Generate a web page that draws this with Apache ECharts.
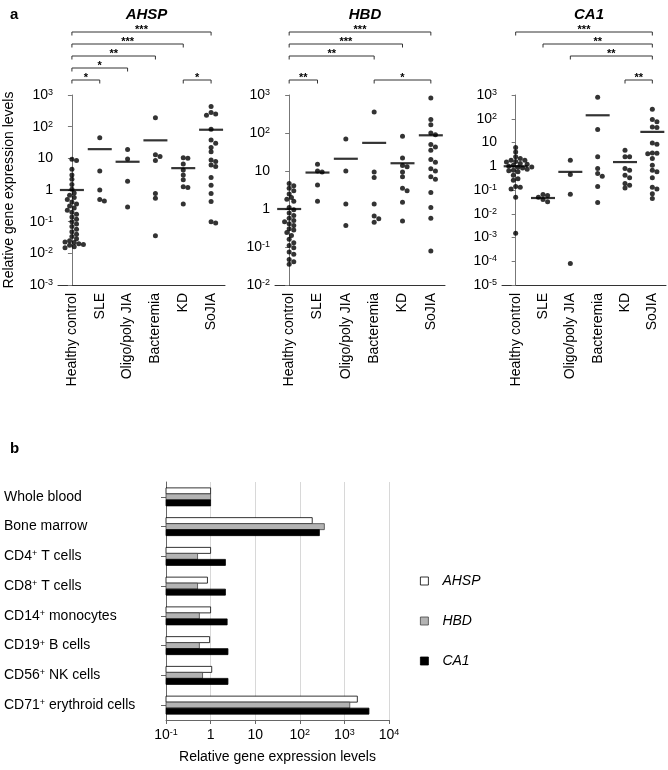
<!DOCTYPE html>
<html>
<head>
    <meta charset="utf-8">
    <title>AHSP HBD CA1</title>
    <script src="https://cdn.jsdelivr.net/npm/echarts@6/dist/echarts.min.js"></script>
</head>
<body style="margin:0">
<div id="main" style="width:668px;height:770px;"></div>
<script>
// ---- data ----
var groups = ['Healthy control', 'SLE', 'Oligo/poly JIA', 'Bacteremia', 'KD', 'SoJIA'];

var ahspHC = [9.3, 8.6, 4.5, 3.0, 2.2, 1.5, 1.05, 0.8, 0.68, 0.58, 0.5, 0.42, 0.36, 0.31, 0.27, 0.23, 0.2, 0.17,
    0.14, 0.12, 0.1, 0.085, 0.07, 0.058, 0.048, 0.04, 0.034, 0.029, 0.025, 0.022, 0.02, 0.018, 0.016, 0.015, 0.019, 0.023];
var ahspSLE = [45, 4, 1.0, 0.5, 0.45];
var ahspJIA = [19, 9.5, 1.9, 0.29];
var ahspBact = [190, 13, 11.5, 8.5, 0.78, 0.55, 0.036];
var ahspKD = [10.5, 10, 6.6, 4.3, 3, 2.1, 1.27, 1.2, 0.36];
var ahspSoJIA = [430, 280, 250, 230, 83, 38, 30, 22, 16, 8.9, 7.9, 6.2, 5.5, 2.5, 1.4, 0.78, 0.43, 0.1, 0.09];
var ahspMean = [1.0, 19.5, 7.8, 37, 4.9, 80];

var hbdHC = [4.7, 4.1, 3.5, 3.0, 2.5, 2.0, 1.8, 1.6, 1.1, 0.95, 0.79, 0.67, 0.57, 0.5, 0.46, 0.41, 0.37, 0.3,
    0.28, 0.24, 0.2, 0.16, 0.13, 0.11, 0.095, 0.074, 0.064, 0.047, 0.041, 0.035];
var hbdSLE = [15, 10, 9.4, 4.3, 1.6];
var hbdJIA = [70, 10, 1.35, 0.37];
var hbdBact = [355, 9.4, 6.7, 1.35, 0.65, 0.55, 0.45];
var hbdKD = [82, 22, 14, 13, 9.4, 7.1, 3.5, 3, 1.5, 0.48];
var hbdSoJIA = [830, 225, 165, 100, 90, 50, 43, 35, 20, 17, 11.5, 10, 7.1, 6.1, 2.7, 1.1, 0.57, 0.079];
var hbdMean = [1.0, 9.1, 21, 55, 16, 87];

var ca1HC = [6.2, 4, 2.5, 2.1, 1.8, 1.8, 1.6, 1.5, 1.3, 1.2, 1.1, 1.1, 1.0, 0.93, 0.9, 0.85, 0.75, 0.68, 0.65,
    0.58, 0.42, 0.3, 0.26, 0.14, 0.13, 0.11, 0.05, 0.0015];
var ca1SLE = [0.065, 0.058, 0.05, 0.04, 0.032];
var ca1JIA = [1.8, 0.45, 0.066, 0.00008];
var ca1Bact = [800, 35, 2.5, 0.8, 0.49, 0.38, 0.14, 0.03];
var ca1KD = [4.7, 2.5, 2.5, 0.8, 0.68, 0.42, 0.33, 0.19, 0.16, 0.12];
var ca1SoJIA = [250, 93, 74, 45, 43, 9.6, 8.5, 3.6, 3.5, 3.4, 2.1, 1.1, 0.68, 0.58, 0.33, 0.13, 0.11, 0.07, 0.044];
var ca1Mean = [1.0, 0.046, 0.58, 140, 1.5, 28];

// significance brackets: [from group, to group, level, stars]
var ahspSig = [[0, 5, 5, '***'], [0, 4, 4, '***'], [0, 3, 3, '**'], [0, 2, 2, '*'], [0, 1, 1, '*'], [4, 5, 1, '*']];
var hbdSig = [[0, 5, 5, '***'], [0, 4, 4, '***'], [0, 3, 3, '**'], [0, 1, 1, '**'], [3, 5, 1, '*']];
var ca1Sig = [[0, 5, 5, '***'], [1, 5, 4, '**'], [2, 5, 3, '**'], [4, 5, 1, '**']];

// panel b
var cells = ['Whole blood', 'Bone marrow', 'CD4+ T cells', 'CD8+ T cells', 'CD14+ monocytes',
    'CD19+ B cells', 'CD56+ NK cells', 'CD71+ erythroid cells'];
var ahspBar = [1, 190, 1.0, 0.85, 1.0, 0.95, 1.06, 1950];
var hbdBar = [1, 355, 0.51, 0.51, 0.56, 0.56, 0.66, 1320];
var ca1Bar = [1, 275, 2.15, 2.15, 2.35, 2.45, 2.45, 3550];

// ---- layout ----
var FONT = 'Liberation Sans, Arial, Helvetica, sans-serif';
var panels = [
    {name: 'AHSP', sets: [ahspHC, ahspSLE, ahspJIA, ahspBact, ahspKD, ahspSoJIA], mean: ahspMean, sig: ahspSig, left: 58, width: 167, min: 1e-3},
    {name: 'HBD', sets: [hbdHC, hbdSLE, hbdJIA, hbdBact, hbdKD, hbdSoJIA], mean: hbdMean, sig: hbdSig, left: 275, width: 170, min: 1e-2},
    {name: 'CA1', sets: [ca1HC, ca1SLE, ca1JIA, ca1Bact, ca1KD, ca1SoJIA], mean: ca1Mean, sig: ca1Sig, left: 502, width: 164, min: 1e-5}
];
var plotTop = 95, plotH = 190, dot = 5;

// simple beeswarm so overlapping dots are pushed sideways
function swarm(vals, pxPerDec, catPx) {
    var order = vals.map(function (v, i) { return i; }).sort(function (a, b) { return vals[b] - vals[a]; });
    var placed = [], offs = [];
    order.forEach(function (i) {
        var ly = Math.log10(vals[i]) * pxPerDec;
        for (var k = 0; k < 20; k++) {
            var off = (k % 2 ? 1 : -1) * Math.ceil(k / 2) * 2.3;
            var hit = placed.some(function (p) {
                var dx = off - p[0], dy = ly - p[1];
                return dx * dx + dy * dy < dot * dot * 0.72;
            });
            if (!hit) break;
        }
        placed.push([off, ly]);
        offs[i] = off / catPx;
    });
    return offs;
}

function powLabel(v) {
    var e = Math.round(Math.log10(v));
    if (e === 0) return '1';
    if (e === 1) return '10';
    return '10{sup|' + (e < 0 ? '-' + (-e) : e) + '}';
}
var supRich = {sup: {fontSize: 9, verticalAlign: 'top', fontFamily: FONT, color: '#000'}};

var grid = [], xAxis = [], yAxis = [], series = [], title = [];
title.push({text: 'a', left: 5, top: 2, textStyle: {fontSize: 15, fontWeight: 'bold', fontFamily: FONT, color: '#000'}});
title.push({text: 'b', left: 5, top: 436, textStyle: {fontSize: 15, fontWeight: 'bold', fontFamily: FONT, color: '#000'}});

panels.forEach(function (p, k) {
    var decades = Math.round(Math.log10(1000 / p.min));
    var pxPerDec = plotH / decades, catPx = p.width / groups.length;
    title.push({text: p.name, left: p.left + p.width / 2, textAlign: 'center', top: 2,
        textStyle: {fontSize: 15, fontWeight: 'bold', fontStyle: 'italic', fontFamily: FONT, color: '#000'}});
    grid.push({left: p.left, top: plotTop, width: p.width, height: plotH});
    grid.push({left: p.left, top: 20, width: p.width, height: 72});
    var g = k * 2;
    // category axis (labels) + hidden value axis for dots
    xAxis.push({type: 'category', gridIndex: g, data: groups,
        axisLine: {lineStyle: {color: '#333', width: 1}}, axisTick: {show: false},
        axisLabel: {rotate: 90, margin: 8, fontSize: 14, color: '#000', fontFamily: FONT, interval: 0}});
    xAxis.push({type: 'value', gridIndex: g, min: -0.5, max: 5.5, show: false});
    xAxis.push({type: 'value', gridIndex: g + 1, min: -0.5, max: 5.5, show: false});
    yAxis.push({type: 'log', gridIndex: g, logBase: 10, min: p.min, max: 1000, interval: 1,
        name: k === 0 ? 'Relative gene expression levels' : '', nameLocation: 'middle', nameGap: 42,
        nameTextStyle: {fontSize: 14, color: '#000', fontFamily: FONT},
        axisLine: {show: true, lineStyle: {color: '#777'}},
        axisTick: {show: true, length: 4, lineStyle: {color: '#777'}},
        splitLine: {show: false}, minorTick: {show: false},
        axisLabel: {formatter: powLabel, rich: supRich, fontSize: 14, color: '#000', fontFamily: FONT, margin: 5}});
    yAxis.push({type: 'value', gridIndex: g + 1, min: 0, max: 6, show: false});

    var pts = [];
    p.sets.forEach(function (vals, ci) {
        var offs = swarm(vals, pxPerDec, catPx);
        vals.forEach(function (v, i) { pts.push([ci + offs[i], v]); });
    });
    var xi = xAxis.length - 2, yi = yAxis.length - 2;
    series.push({type: 'scatter', xAxisIndex: xi, yAxisIndex: yi, data: pts, symbolSize: dot,
        itemStyle: {color: '#000'}, silent: true, z: 3});
    series.push({type: 'scatter', xAxisIndex: xi, yAxisIndex: yi, symbol: 'rect', symbolSize: [24, 2.2],
        data: p.mean.map(function (m, i) { return [i, m]; }), itemStyle: {color: '#000'}, silent: true, z: 4});
    var sig = p.sig;
    series.push({type: 'custom', xAxisIndex: xi + 1, yAxisIndex: yi + 1,
        data: sig.map(function (s) { return [s[0], s[1], s[2]]; }),
        renderItem: function (params, api) {
            var a = api.coord([api.value(0), api.value(2)]);
            var b = api.coord([api.value(1), api.value(2)]);
            return {type: 'group', children: [
                {type: 'polyline', shape: {points: [[a[0], a[1] + 3.5], [a[0], a[1]], [b[0], b[1]], [b[0], b[1] + 3.5]]},
                    style: {stroke: '#333', fill: null, lineWidth: 1}},
                {type: 'text', style: {text: sig[params.dataIndex][3], x: (a[0] + b[0]) / 2, y: a[1] + 3,
                    align: 'center', verticalAlign: 'bottom', font: 'bold 11px ' + FONT, fill: '#000'}}
            ]};
        }, silent: true});
});

// panel b grid
grid.push({left: 166, top: 482, width: 223, height: 238});
var bg = grid.length - 1;
xAxis.push({type: 'log', gridIndex: bg, logBase: 10, min: 0.1, max: 10000, interval: 1,
    name: 'Relative gene expression levels', nameLocation: 'middle', nameGap: 30,
    nameTextStyle: {fontSize: 14, color: '#000', fontFamily: FONT},
    axisLine: {show: true, lineStyle: {color: '#666'}},
    axisTick: {show: true, length: 4, lineStyle: {color: '#666'}},
    splitLine: {show: true, lineStyle: {color: '#d8d8d8'}}, minorTick: {show: false},
    axisLabel: {formatter: powLabel, rich: supRich, fontSize: 14, color: '#000', fontFamily: FONT, margin: 8}});
yAxis.push({type: 'category', gridIndex: bg, data: cells, inverse: true,
    axisLine: {show: true, lineStyle: {color: '#666'}},
    axisTick: {show: true, alignWithLabel: true, length: 5, lineStyle: {color: '#666'}},
    axisLabel: {align: 'left', margin: 162, fontSize: 14, color: '#000', fontFamily: FONT,
        formatter: function (s) { return s.replace('+', '{sup|+}'); }, rich: supRich}});
var bx = xAxis.length - 1, by = yAxis.length - 1;
var barStyles = [
    {color: '#fff', borderColor: '#000', borderWidth: 0.8},
    {color: '#b3b3b3', borderColor: '#444', borderWidth: 0.8},
    {color: '#000', borderColor: '#000', borderWidth: 0.8}
];
var barH = 6;
// bars drawn from the axis start (10^-1), three per cell type
[['AHSP', ahspBar], ['HBD', hbdBar], ['CA1', ca1Bar]].forEach(function (s, i) {
    var st = barStyles[i];
    series.push({type: 'custom', name: s[0], xAxisIndex: bx, yAxisIndex: by,
        data: s[1].map(function (v, ci) { return [v, ci]; }),
        itemStyle: st, silent: true,
        renderItem: function (params, api) {
            var end = api.coord([api.value(0), api.value(1)]);
            var start = api.coord([0.1, api.value(1)]);
            var y = end[1] + (i - 1.5) * barH;
            return {type: 'rect', shape: {x: start[0], y: y, width: end[0] - start[0], height: barH},
                style: {fill: st.color, stroke: st.borderColor, lineWidth: st.borderWidth}};
        }});
});

var myChart = echarts.init(document.getElementById('main'), null, {renderer: 'canvas'});
myChart.setOption({
    animation: false,
    backgroundColor: '#fff',
    textStyle: {fontFamily: FONT},
    title: title,
    grid: grid,
    xAxis: xAxis,
    yAxis: yAxis,
    legend: {orient: 'vertical', left: 415, top: 569, itemGap: 26,
        itemWidth: 8, itemHeight: 8, icon: 'rect',
        data: [
            {name: 'AHSP', itemStyle: barStyles[0]},
            {name: 'HBD', itemStyle: barStyles[1]},
            {name: 'CA1', itemStyle: barStyles[2]}
        ],
        textStyle: {fontSize: 14, fontStyle: 'italic', color: '#000', fontFamily: FONT, padding: [0, 0, 0, 9]}},
    series: series
});
</script>
</body>
</html>
